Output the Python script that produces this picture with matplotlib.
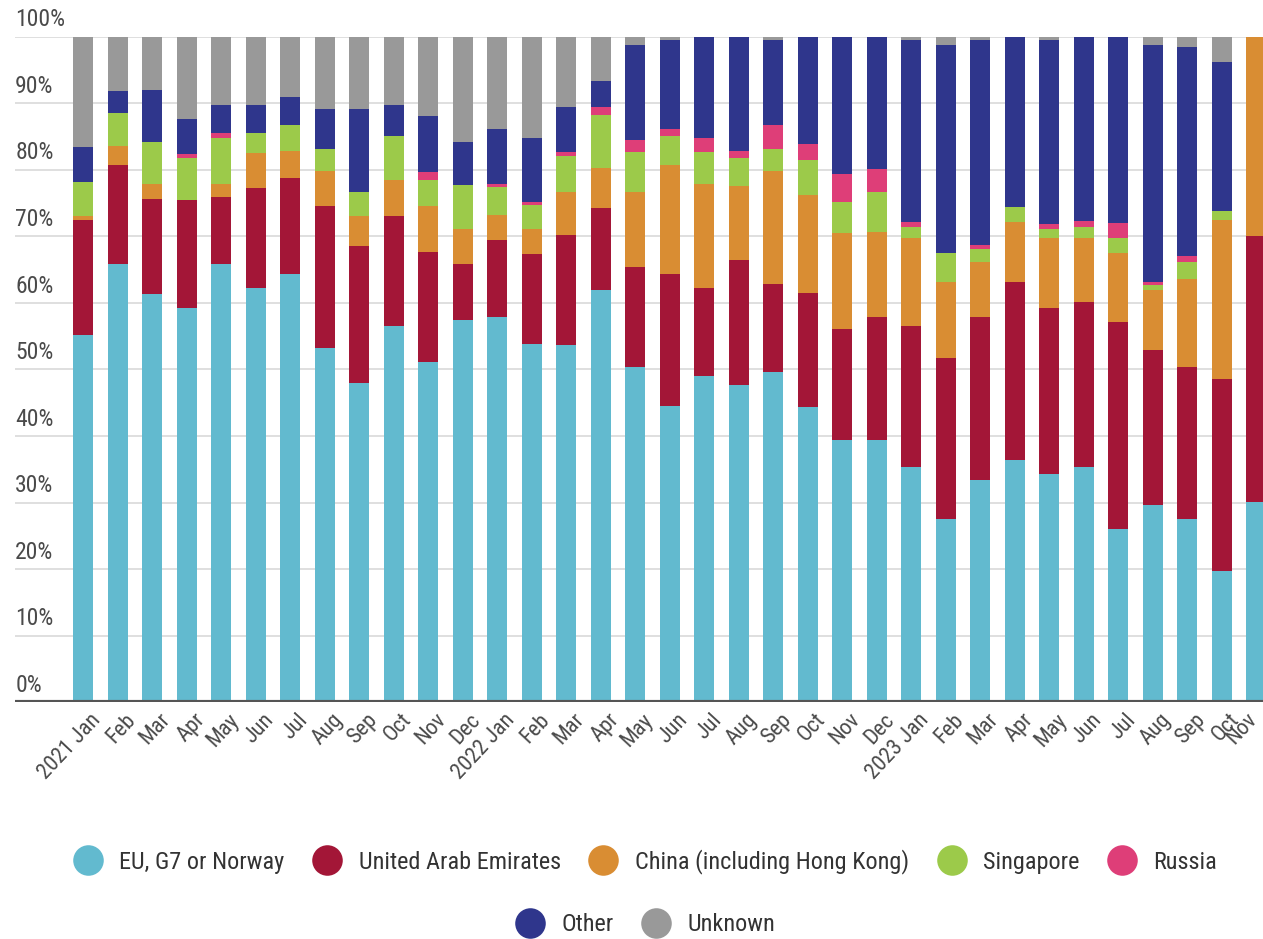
import matplotlib
matplotlib.use('Agg')
import matplotlib.pyplot as plt
from matplotlib import font_manager
from matplotlib.lines import Line2D
import matplotlib.transforms as mtransforms
import numpy as np

# month labels
months = ['2021 Jan', 'Feb', 'Mar', 'Apr', 'May', 'Jun', 'Jul', 'Aug', 'Sep', 'Oct', 'Nov', 'Dec',
          '2022 Jan', 'Feb', 'Mar', 'Apr', 'May', 'Jun', 'Jul', 'Aug', 'Sep', 'Oct', 'Nov', 'Dec',
          '2023 Jan', 'Feb', 'Mar', 'Apr', 'May', 'Jun', 'Jul', 'Aug', 'Sep', 'Oct', 'Nov']

# shares in %
eu = [55.2, 65.9, 61.4, 59.3, 65.9, 62.3, 64.3, 53.3, 47.9, 56.6, 51.2, 57.4,
      57.9, 53.8, 53.7, 61.9, 50.3, 44.5, 49.0, 47.6, 49.6, 44.3, 39.4, 39.4,
      35.4, 27.6, 33.4, 36.4, 34.3, 35.4, 26.0, 29.6, 27.6, 19.7, 30.1]
uae = [17.3, 14.8, 14.2, 16.1, 10.0, 15.0, 14.4, 21.2, 20.7, 16.5, 16.5, 8.5,
       11.5, 13.5, 16.5, 12.4, 15.1, 19.8, 13.3, 18.8, 13.3, 17.2, 16.7, 18.5,
       21.2, 24.1, 24.5, 26.8, 25.0, 24.8, 31.1, 23.4, 22.7, 28.9, 39.9]
china = [0.6, 2.9, 2.3, 0.0, 2.0, 5.2, 4.1, 5.3, 4.4, 5.3, 6.8, 5.2,
         3.8, 3.8, 6.4, 6.0, 11.2, 16.4, 15.6, 11.1, 16.9, 14.7, 14.4, 12.8,
         13.2, 11.4, 8.2, 8.9, 10.5, 9.6, 10.4, 8.9, 13.3, 23.9, 30.0]
singapore = [5.0, 4.9, 6.3, 6.4, 6.9, 3.0, 4.0, 3.3, 3.6, 6.6, 4.0, 6.6,
             4.2, 3.6, 5.4, 8.0, 6.0, 4.3, 4.7, 4.3, 3.3, 5.2, 4.7, 5.9,
             1.6, 4.4, 2.0, 2.3, 1.3, 1.6, 2.3, 0.8, 2.6, 1.3, 0.0]
russia = [0.0, 0.0, 0.0, 0.5, 0.7, 0.0, 0.0, 0.0, 0.0, 0.0, 1.1, 0.0,
          0.5, 0.5, 0.6, 1.1, 1.9, 1.1, 2.2, 1.0, 3.6, 2.5, 4.1, 3.5,
          0.8, 0.0, 0.6, 0.0, 0.7, 0.9, 2.2, 0.5, 0.8, 0.0, 0.0]
other = [5.3, 3.3, 7.8, 5.4, 4.3, 4.3, 4.1, 6.0, 12.5, 4.8, 8.5, 6.4,
         8.2, 9.6, 6.9, 4.0, 14.2, 13.4, 15.2, 17.2, 12.8, 16.1, 20.7, 19.9,
         27.3, 31.2, 30.8, 25.6, 27.7, 27.7, 28.0, 35.5, 31.5, 22.4, 0.0]
unknown = [16.6, 8.2, 8.0, 12.3, 10.2, 10.2, 9.1, 10.9, 10.9, 10.2, 11.8, 15.9,
           13.9, 15.2, 10.5, 6.6, 1.3, 0.5, 0.0, 0.0, 0.5, 0.0, 0.0, 0.0,
           0.5, 1.3, 0.5, 0.0, 0.5, 0.0, 0.0, 1.3, 1.5, 3.8, 0.0]

series = [
    ('EU, G7 or Norway', eu, '#62bacf'),
    ('United Arab Emirates', uae, '#a31637'),
    ('China (including Hong Kong)', china, '#d98d33'),
    ('Singapore', singapore, '#9cca4a'),
    ('Russia', russia, '#de3e78'),
    ('Other', other, '#2f368c'),
    ('Unknown', unknown, '#999999'),
]

# pick a narrow face if one is installed
installed = {f.name for f in font_manager.fontManager.ttflist}
narrow = [n for n in ['Roboto Condensed', 'Liberation Sans Narrow', 'DejaVu Sans Condensed',
                      'Open Sans Condensed', 'Noto Sans Condensed'] if n in installed]
if narrow:
    plt.rcParams['font.family'] = [narrow[0], 'DejaVu Sans']
    fs_tick, fs_xtick, fs_leg = 17, 16, 17.5
else:
    plt.rcParams['font.family'] = ['DejaVu Sans']
    fs_tick, fs_xtick, fs_leg = 13, 12, 14
txt_color = '#4a4a4a'

fig = plt.figure(figsize=(12.63, 9.39), dpi=100)
ax = fig.add_axes([0.012, 0.252, 0.988, 0.709])

x = np.arange(len(months))
bottom = np.zeros(len(months))
for name, vals, col in series:
    ax.bar(x, vals, width=0.58, bottom=bottom, color=col, linewidth=0, zorder=3)
    bottom += np.array(vals)

ax.set_xlim(-1.97, 34.2)
ax.set_ylim(0, 100)

# gridlines + y labels sitting above them
for v in range(0, 101, 10):
    if v > 0:
        ax.axhline(v, color='#dcdcdc', lw=1.3, zorder=1)
    ax.text(0.0, v + 0.8, f'{v}%', transform=ax.get_yaxis_transform(),
            ha='left', va='bottom', fontsize=fs_tick, color=txt_color)
ax.axhline(0, color='#555555', lw=3, zorder=4)

for s in ax.spines.values():
    s.set_visible(False)
ax.set_yticks([])
ax.set_xticks(x)
ax.tick_params(axis='x', length=0, pad=5)
labels = ax.set_xticklabels(months, rotation=47, ha='right', rotation_mode='anchor',
                            fontsize=fs_xtick, color=txt_color)
for i, lab in enumerate(labels):
    dx = 0.07 if i < len(labels) - 1 else -0.1  # keep the last one inside the canvas
    lab.set_transform(lab.get_transform() + mtransforms.ScaledTranslation(dx, 0, fig.dpi_scale_trans))

def handles(items):
    return [Line2D([], [], marker='o', linestyle='none', markersize=22,
                   markerfacecolor=c, markeredgewidth=0) for _, _, c in items]

fig.legend(handles(series[:5]), [s[0] for s in series[:5]], loc='center',
           bbox_to_anchor=(0.507, 0.082), ncol=5, frameon=False, fontsize=fs_leg,
           handletextpad=0.3, columnspacing=0.75, labelcolor='#333333')
fig.legend(handles(series[5:]), [s[0] for s in series[5:]], loc='center',
           bbox_to_anchor=(0.507, 0.015), ncol=2, frameon=False, fontsize=fs_leg,
           handletextpad=0.3, columnspacing=0.75, labelcolor='#333333')

fig.savefig('out.png', dpi=100)
